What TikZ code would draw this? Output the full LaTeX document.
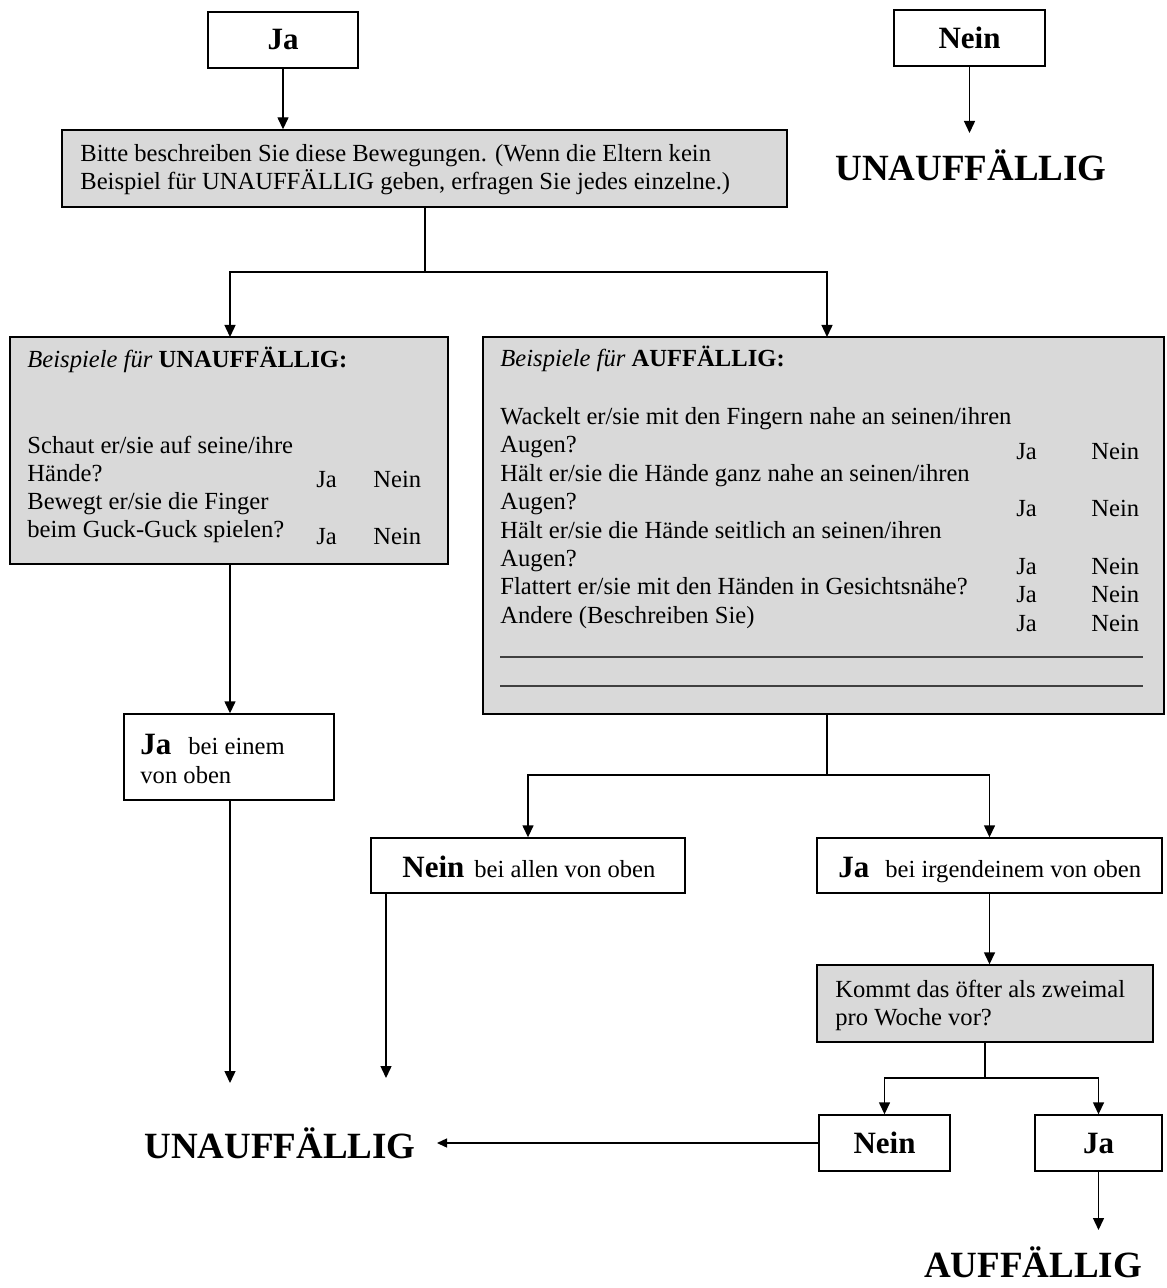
\documentclass[tikz,border=0pt]{standalone}
\usepackage{fontspec}
\setmainfont{Liberation Serif}
\usetikzlibrary{arrows.meta}
\definecolor{qgrey}{HTML}{D9D9D9}
\begin{document}
\begin{tikzpicture}[x=0.5pt,y=-0.5pt,
  every node/.style={font=\fontsize{12.3}{14}\selectfont},
  box/.style={draw, line width=0.7pt, inner sep=0pt, fill=white},
  qbox/.style={box, fill=qgrey},
  txt/.style={anchor=base west, inner sep=0pt},
  lbl/.style={font=\fontsize{15.5}{18}\selectfont\bfseries},
  big/.style={inner sep=0pt, font=\fontsize{18.5}{22}\selectfont\bfseries},
  arr/.style={line width=0.7pt, -{Triangle[width=5.5pt,length=6pt]}},
  ln/.style={line width=0.7pt}]
\useasboundingbox (0,0) rectangle (1166,1288);

% ---- boxes ----
\node[box, minimum width=75pt, minimum height=28pt] (jaTop) at (283,40) {};
\node[lbl] at (jaTop) {Ja};
\node[box, minimum width=75.5pt, minimum height=28pt] (neinTop) at (969.5,38) {};
\node[lbl] at (neinTop) {Nein};
\node[big] (unauf1) at (971,165) {UNAUFFÄLLIG};

\node[qbox, minimum width=362.5pt, minimum height=38.5pt] (q1) at (424.5,168.5) {};
\node[txt] at (80,162) {Bitte beschreiben Sie diese Bewegungen. (Wenn die Eltern kein};
\node[txt] at (80,190) {Beispiel für UNAUFFÄLLIG geben, erfragen Sie jedes einzelne.)};

\node[qbox, minimum width=219pt, minimum height=113.5pt] (bu) at (229,450.5) {};
\node[txt] at (27,368) {\textit{Beispiele für} \textbf{UNAUFFÄLLIG:}};
\node[txt] at (27,453) {Schaut er/sie auf seine/ihre};
\node[txt] at (27,481) {Hände?};
\node[txt] at (27,509) {Bewegt er/sie die Finger};
\node[txt] at (27,537) {beim Guck-Guck spielen?};
\foreach \y in {487,544} {
  \node[txt] at (316,\y) {Ja};
  \node[txt] at (373,\y) {Nein};
}

\node[qbox, minimum width=340.5pt, minimum height=188.5pt] (ba) at (823.5,525.5) {};
\node[txt] at (500,367) {\textit{Beispiele für} \textbf{AUFFÄLLIG:}};
\node[txt] at (500,424) {Wackelt er/sie mit den Fingern nahe an seinen/ihren};
\node[txt] at (500,452) {Augen?};
\node[txt] at (500,481) {Hält er/sie die Hände ganz nahe an seinen/ihren};
\node[txt] at (500,509) {Augen?};
\node[txt] at (500,538) {Hält er/sie die Hände seitlich an seinen/ihren};
\node[txt] at (500,566) {Augen?};
\node[txt] at (500,594) {Flattert er/sie mit den Händen in Gesichtsnähe?};
\node[txt] at (500,623) {Andere (Beschreiben Sie)};
\foreach \y in {459,516,574,602,631} {
  \node[txt] at (1016,\y) {Ja};
  \node[txt] at (1091,\y) {Nein};
}
\draw[line width=0.6pt, black!75] (500,657) -- (1143,657);
\draw[line width=0.6pt, black!75] (500,686) -- (1143,686);

\node[box, minimum width=105pt, minimum height=43pt] (jaEin) at (229,757) {};
\node[txt, lbl] at (140,754) {Ja};
\node[txt] at (188,754) {bei einem};
\node[txt] at (140,783) {von oben};

\node[box, minimum width=157pt, minimum height=27.5pt] (neinAll) at (528,865.5) {};
\node[txt, lbl] at (402,877) {Nein};
\node[txt] at (474,877) {bei allen von oben};

\node[box, minimum width=172.5pt, minimum height=27.5pt] (jaIrg) at (989.5,865.5) {};
\node[txt, lbl] at (838,877) {Ja};
\node[txt] at (885,877) {bei irgendeinem von oben};

\node[qbox, minimum width=168pt, minimum height=38.5pt] (q2) at (985,1003.5) {};
\node[txt] at (835,997) {Kommt das öfter als zweimal};
\node[txt] at (835,1025) {pro Woche vor?};

\node[box, minimum width=65.5pt, minimum height=28pt] (neinB) at (884.5,1143) {};
\node[lbl] at (neinB) {Nein};
\node[box, minimum width=63.5pt, minimum height=28pt] (jaB) at (1098.5,1143) {};
\node[lbl] at (jaB) {Ja};

\node[big] (unauf2) at (280,1143) {UNAUFFÄLLIG};
\node[big] (auf) at (1033,1262) {AUFFÄLLIG};

% ---- connectors ----
\coordinate (t1) at (969.5,133);
\draw[arr] (neinTop.south) -- (t1);
\draw[arr] (jaTop.south) -- (jaTop.south |- q1.north);

\coordinate (s1) at (425,272);
\draw[ln] (q1.south -| s1) -- (s1);
\draw[arr] (s1) -| (230,337);
\draw[arr] (s1) -| (827,337);

\draw[arr] (bu.south -| 230,0) -- (jaEin.north -| 230,0);
\coordinate (e1) at (230,1083);
\draw[arr] (jaEin.south -| 230,0) -- (e1);

\coordinate (s2) at (827,775);
\draw[ln] (ba.south -| s2) -- (s2);
\draw[arr] (s2) -| (neinAll.north);
\draw[arr] (s2) -| (jaIrg.north);

\coordinate (e2) at (386,1078);
\draw[arr] (neinAll.south -| e2) -- (e2);

\draw[arr] (jaIrg.south) -- (jaIrg.south |- q2.north);

\coordinate (s3) at (985,1078);
\draw[ln] (q2.south -| s3) -- (s3);
\draw[arr] (s3) -| (neinB.north);
\draw[arr] (s3) -| (jaB.north);

\coordinate (e3) at (437,1143);
\draw[line width=0.7pt, -{Triangle[width=4.5pt,length=5pt]}] (neinB.west) -- (e3);

\coordinate (e4) at (1098.5,1230);
\draw[arr] (jaB.south) -- (e4);
\end{tikzpicture}
\end{document}
